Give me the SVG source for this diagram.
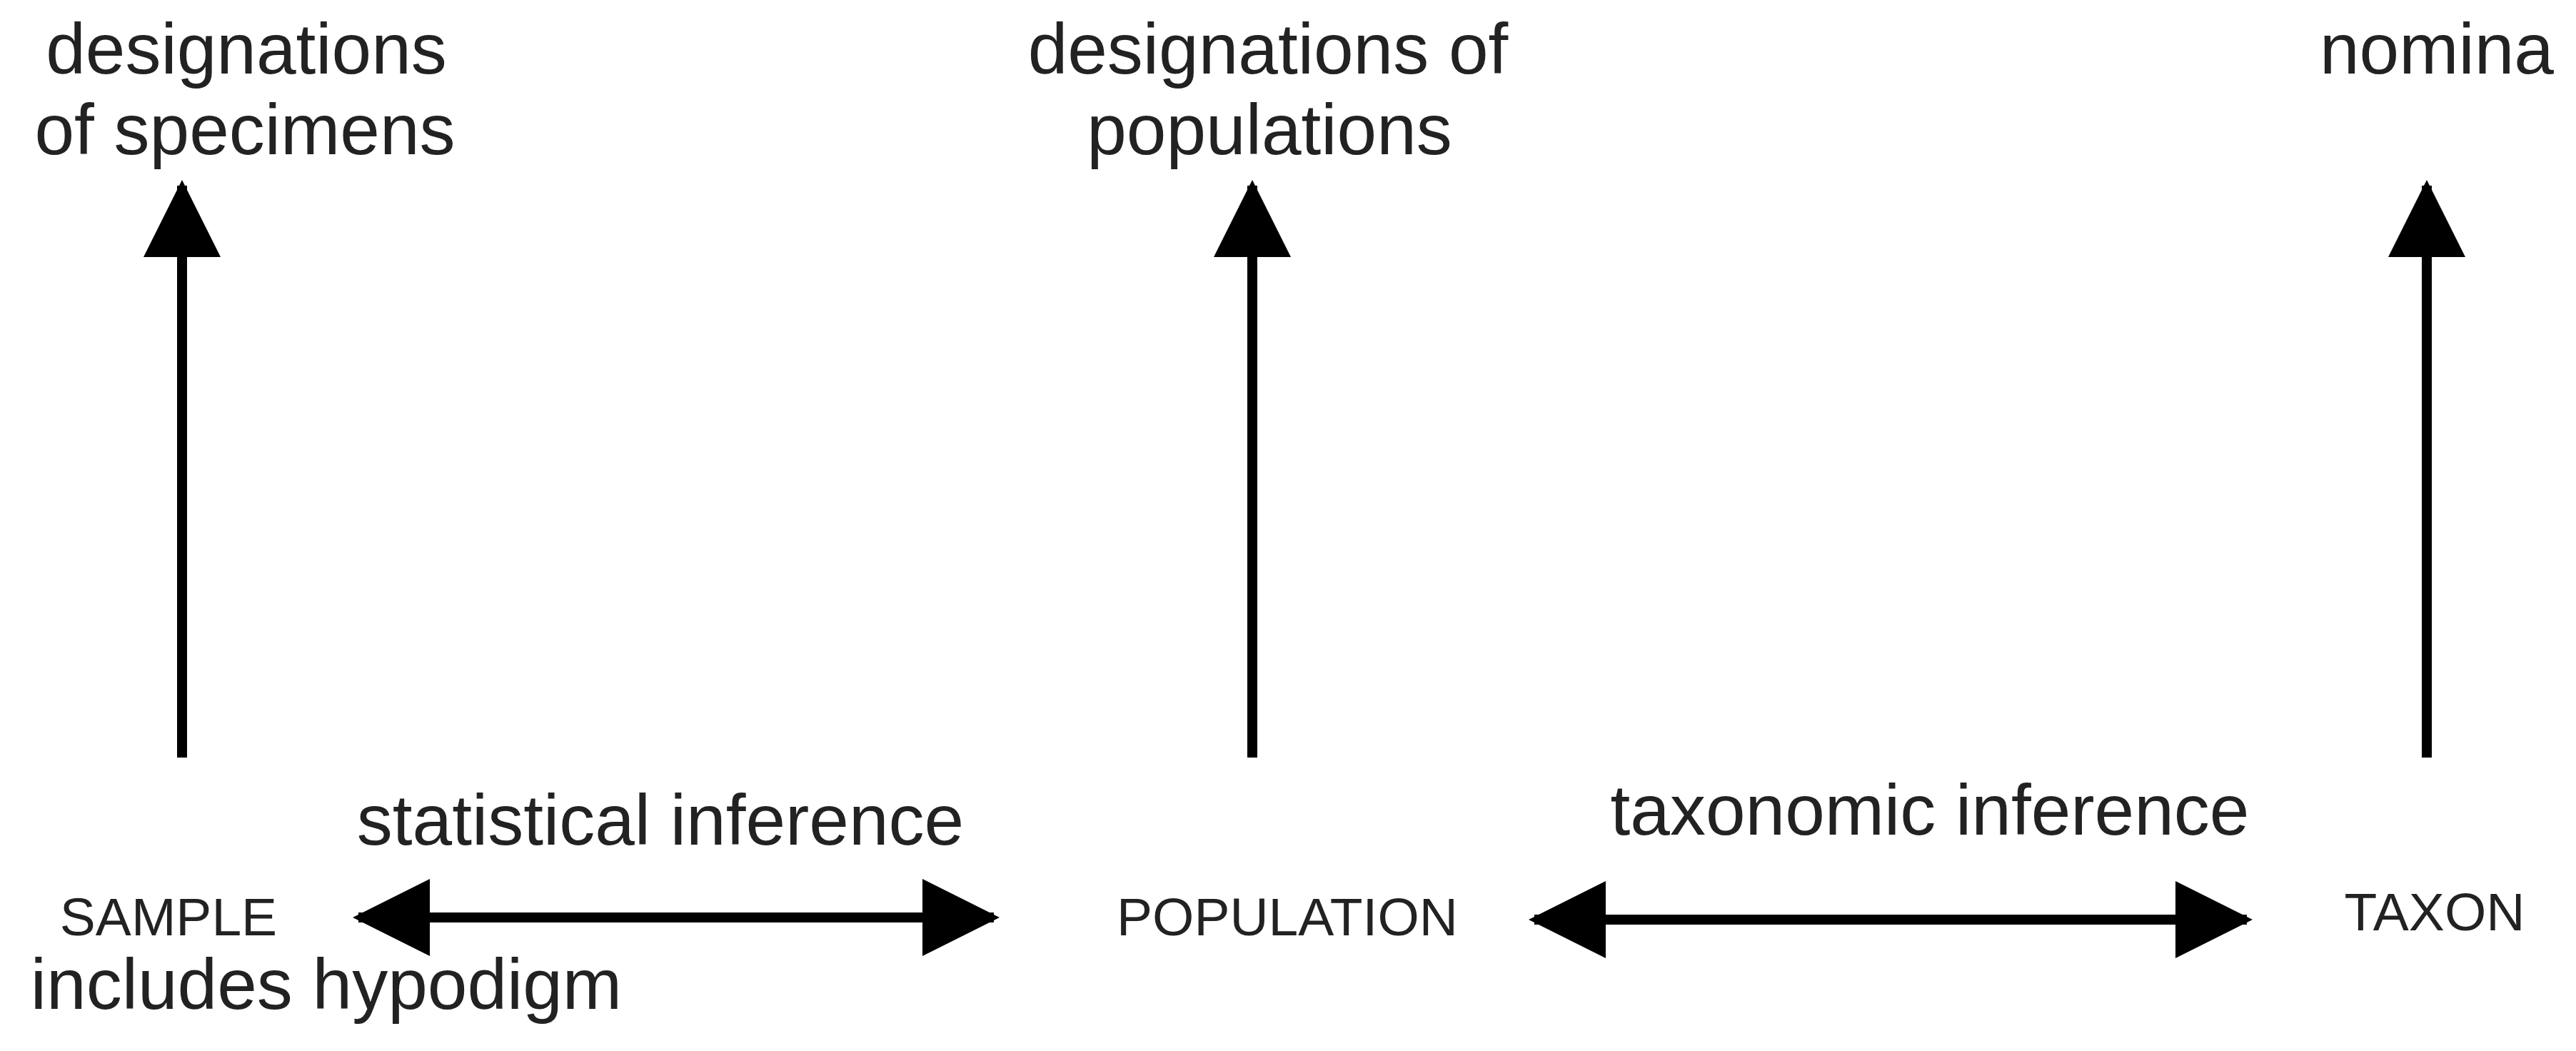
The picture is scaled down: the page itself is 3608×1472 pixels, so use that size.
<svg xmlns="http://www.w3.org/2000/svg" width="3608" height="1472" viewBox="0 0 3608 1472">
<style>
text{font-family:"Liberation Sans",Arial,sans-serif;fill:#222;text-anchor:middle}
.b{font-size:100px}.s{font-size:75px}
line{stroke:#000;stroke-width:14}
</style>
<defs>
<marker id="ah" viewBox="0 0 108 108" refX="100" refY="54" markerWidth="108" markerHeight="108" markerUnits="userSpaceOnUse" orient="auto-start-reverse"><path d="M0,0L108,54L0,108Z" fill="#000"/></marker>
</defs>
<g id="n-spec"><text class="b" x="345" y="103">designations</text><text class="b" x="343" y="216">of specimens</text></g>
<g id="n-popdes"><text class="b" x="1776" y="103">designations of</text><text class="b" x="1778" y="216">populations</text></g>
<g id="n-nomina"><text class="b" x="3413" y="103">nomina</text></g>
<g id="n-sample"><text class="s" x="236" y="1310">SAMPLE</text><text class="b" x="457" y="1413">includes hypodigm</text></g>
<g id="n-pop"><text class="s" x="1803" y="1310">POPULATION</text></g>
<g id="n-taxon"><text class="s" x="3410" y="1303">TAXON</text></g>
<g id="connectors">
<line x1="255" y1="1061" x2="255" y2="260" marker-end="url(#ah)"/>
<line x1="1754" y1="1061" x2="1754" y2="260" marker-end="url(#ah)"/>
<line x1="3399" y1="1061" x2="3399" y2="260" marker-end="url(#ah)"/>
<line x1="502" y1="1285" x2="1392" y2="1285" marker-start="url(#ah)" marker-end="url(#ah)"/>
<line x1="2149" y1="1288" x2="3147" y2="1288" marker-start="url(#ah)" marker-end="url(#ah)"/>
<text class="b" x="925" y="1183">statistical inference</text>
<text class="b" x="2703" y="1169">taxonomic inference</text>
</g>
</svg>
